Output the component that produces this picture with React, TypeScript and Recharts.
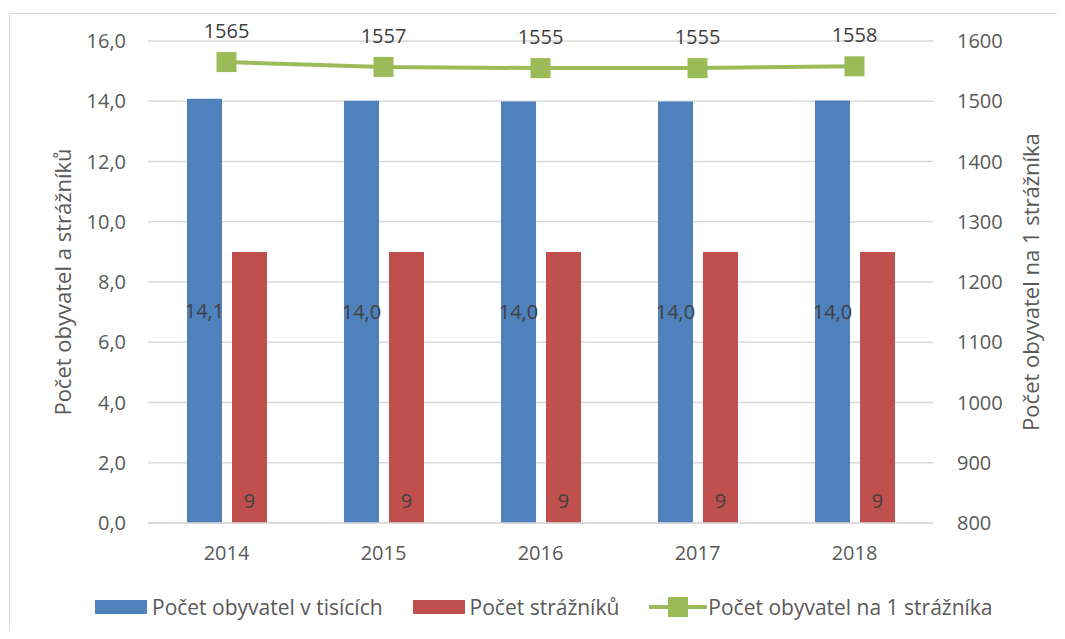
import React from 'react';
import {
  ComposedChart, Bar, Line, XAxis, YAxis, CartesianGrid, LabelList,
} from 'recharts';

const years = ['2014', '2015', '2016', '2017', '2018'];
const populationThousands = [14.085, 14.013, 13.995, 13.995, 14.022];
const officers = [9, 9, 9, 9, 9];
const perOfficer = [1565, 1557, 1555, 1555, 1558];
const leftTicks = [0, 2, 4, 6, 8, 10, 12, 14, 16];
const rightTicks = [800, 900, 1000, 1100, 1200, 1300, 1400, 1500, 1600];

const BLUE = '#4F81BD';
const RED = '#C0504D';
const GREEN = '#9BBB59';
const FONT = '"Open Sans", sans-serif';

const data = years.map((year, i) => ({
  year,
  population: populationThousands[i],
  officers: officers[i],
  perOfficer: perOfficer[i],
}));

const fmtComma = (v: number) => Number(v).toFixed(1).replace('.', ',');

const SquareDot = (props: any) => {
  const { cx, cy } = props;
  if (cx == null || cy == null) return null;
  return <rect x={cx - 10} y={cy - 10} width={20} height={20} fill={GREEN} />;
};

const AxisTitle = ({ viewBox, value, shift }: any) => {
  const x = viewBox.x + shift;
  const y = viewBox.y + viewBox.height / 2;
  return (
    <text
      x={x}
      y={y}
      transform={`rotate(-90 ${x} ${y})`}
      textAnchor="middle"
      dominantBaseline="central"
      fill="#595959"
      fontSize={22}
      fontFamily={FONT}
    >
      {value}
    </text>
  );
};

const LegendItem = ({ kind, color, text }: { kind: 'bar' | 'line'; color: string; text: string }) => (
  <div style={{ display: 'flex', alignItems: 'center', marginRight: 30 }}>
    {kind === 'bar' ? (
      <div style={{ width: 52, height: 14, background: color, marginRight: 5 }} />
    ) : (
      <div style={{ position: 'relative', width: 58, height: 20, marginRight: 1 }}>
        <div style={{ position: 'absolute', left: 0, right: 0, top: 8, height: 4, background: color }} />
        <div style={{ position: 'absolute', left: 19, top: 0, width: 20, height: 20, background: color }} />
      </div>
    )}
    <span>{text}</span>
  </div>
);

export default function App() {
  const tick = { fill: '#595959', fontSize: 20, fontFamily: FONT };
  return (
    <div style={{ position: 'relative', width: 1065, height: 639, margin: -8, background: '#fff', fontFamily: FONT }}>
      <div style={{ position: 'absolute', left: 9, top: 13, width: 1060, height: 630, border: '1px solid #d9d9d9' }} />
      <div style={{ position: 'absolute', left: 0, top: 0 }}>
        <ComposedChart
          width={1065}
          height={580}
          data={data}
          margin={{ top: 41, right: 22, bottom: 0, left: 48 }}
          barSize={35}
          barGap={10}
        >
          <CartesianGrid vertical={false} stroke="#d9d9d9" strokeWidth={1.5} yAxisId="left" />
          <XAxis
            dataKey="year"
            height={57}
            tick={tick}
            tickLine={false}
            tickSize={0}
            tickMargin={23}
            axisLine={{ stroke: '#d9d9d9', strokeWidth: 1.5 }}
          />
          <YAxis
            yAxisId="left"
            width={100}
            domain={[0, 16]}
            ticks={leftTicks}
            tickFormatter={fmtComma}
            tick={tick}
            tickLine={false}
            tickSize={0}
            tickMargin={22}
            axisLine={false}
            label={<AxisTitle value="Počet obyvatel a strážníků" shift={14} />}
          />
          <YAxis
            yAxisId="right"
            orientation="right"
            width={110}
            domain={[800, 1600]}
            ticks={rightTicks}
            tick={{ ...tick, textAnchor: 'start' }}
            tickLine={false}
            tickSize={0}
            tickMargin={24}
            axisLine={false}
            label={<AxisTitle value="Počet obyvatel na 1 strážníka" shift={97} />}
          />
          <Bar yAxisId="left" dataKey="population" fill={BLUE} isAnimationActive={false}>
            <LabelList
              dataKey="population"
              position="center"
              formatter={(v: any) => fmtComma(v)}
              fill="#404040"
              fontSize={20}
              fontFamily={FONT}
            />
          </Bar>
          <Bar yAxisId="left" dataKey="officers" fill={RED} isAnimationActive={false}>
            <LabelList
              dataKey="officers"
              position="insideBottom"
              offset={15}
              fill="#404040"
              fontSize={20}
              fontFamily={FONT}
            />
          </Bar>
          <Line
            yAxisId="right"
            dataKey="perOfficer"
            stroke={GREEN}
            strokeWidth={4}
            dot={<SquareDot />}
            activeDot={false}
            isAnimationActive={false}
          >
            <LabelList
              dataKey="perOfficer"
              position="top"
              offset={24}
              fill="#404040"
              fontSize={20}
              fontFamily={FONT}
            />
          </Line>
        </ComposedChart>
      </div>
      <div
        style={{
          position: 'absolute', left: 95, top: 595, display: 'flex', alignItems: 'center',
          fontSize: 21, color: '#595959', lineHeight: '24px',
        }}
      >
        <LegendItem kind="bar" color={BLUE} text="Počet obyvatel v tisících" />
        <LegendItem kind="bar" color={RED} text="Počet strážníků" />
        <LegendItem kind="line" color={GREEN} text="Počet obyvatel na 1 strážníka" />
      </div>
    </div>
  );
}
